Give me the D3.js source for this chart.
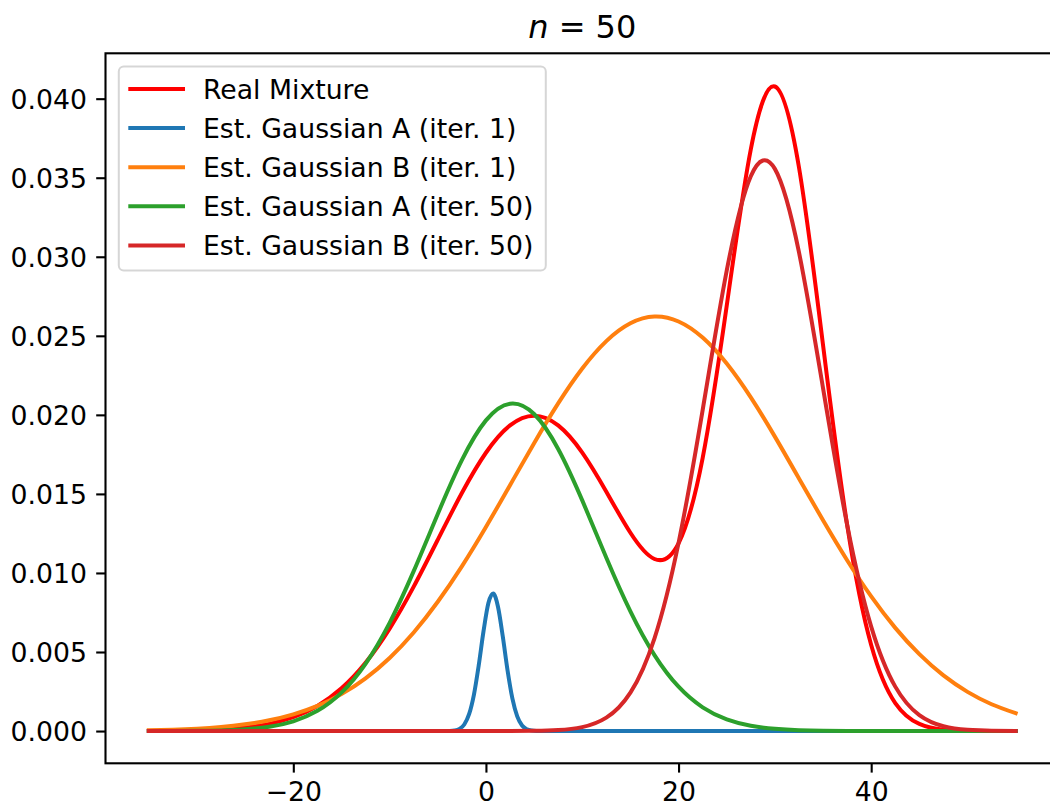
<!DOCTYPE html>
<html>
<head>
<meta charset="utf-8">
<script src="https://cdn.jsdelivr.net/npm/d3@7"></script>
<style>
  body { margin: 0; background: #fff; }
  svg { display: block; }
</style>
</head>
<body>
<script>
// sample positions shared by the broad curves (even spacing)
const xGrid = [-35, -32.5, -30, -27.5, -25, -22.5, -20, -17.5, -15, -12.5, -10, -7.5, -5, -2.5,
  0, 2.5, 5, 7.5, 10, 12.5, 15, 17.5, 20, 22.5, 25, 27.5, 30, 32.5, 35, 37.5, 40, 42.5, 45, 47.5,
  50, 52.5, 55]

// real mixture density
const realMixture = [0.000007, 0.000018, 0.000044, 0.000101, 0.000222, 0.000455, 0.000876, 0.001587,
  0.002700, 0.004315, 0.006477, 0.009132, 0.012099, 0.015056, 0.017603, 0.019333, 0.019947, 0.019335,
  0.017616, 0.015143, 0.012542, 0.010885, 0.011876, 0.017269, 0.026897, 0.036794, 0.040770, 0.035662,
  0.024419, 0.013055, 0.005443, 0.001771, 0.000450, 0.000089, 0.000014, 0.000002, 0.000000]

// Gaussian A, iteration 1 (narrow, so it gets its own finer x positions)
const gaussA1X = [-35, -30, -25, -20, -15, -10, -5, -4.25, -3.75, -3.25, -2.75, -2.25, -1.75, -1.25,
  -0.75, -0.25, 0.25, 0.75, 1.25, 1.75, 2.25, 2.75, 3.25, 3.75, 4.25, 4.75, 5.25, 5.75, 6.5, 10, 15,
  20, 25, 30, 35, 40, 45, 50, 55]
const gaussA1 = [0, 0, 0, 0, 0, 0, 0, 0.000002, 0.000009, 0.000038, 0.000136, 0.000415, 0.001064,
  0.002292, 0.004151, 0.006317, 0.008084, 0.008695, 0.007862, 0.005976, 0.003818, 0.002051, 0.000926,
  0.000351, 0.000112, 0.000030, 0.000007, 0.000001, 0, 0, 0, 0, 0, 0, 0, 0, 0, 0, 0]

// Gaussian B, iteration 1
const gaussB1 = [0.000049, 0.000088, 0.000153, 0.000258, 0.000425, 0.000678, 0.001054, 0.001592,
  0.002336, 0.003335, 0.004625, 0.006238, 0.008178, 0.010420, 0.012911, 0.015551, 0.018207, 0.020722,
  0.022930, 0.024665, 0.025790, 0.026220, 0.025908, 0.024888, 0.023244, 0.021102, 0.018624, 0.015978,
  0.013328, 0.010805, 0.008516, 0.006526, 0.004861, 0.003519, 0.002478, 0.001695, 0.001128]

// Gaussian A, iteration 50
const gaussA50 = [0.000001, 0.000005, 0.000014, 0.000042, 0.000112, 0.000273, 0.000616, 0.001278,
  0.002433, 0.004256, 0.006844, 0.010113, 0.013731, 0.017135, 0.019651, 0.020708, 0.020053, 0.017844,
  0.014593, 0.010967, 0.007573, 0.004807, 0.002804, 0.001502, 0.000740, 0.000335, 0.000139, 0.000053,
  0.000019, 0.000006, 0.000002, 0, 0, 0, 0, 0, 0]

// Gaussian B, iteration 50
const gaussB50 = [0, 0, 0, 0, 0, 0, 0, 0, 0, 0, 0, 0, 0, 0, 0, 0, 0.000013, 0.000061, 0.000248,
  0.000846, 0.002430, 0.005866, 0.011905, 0.020303, 0.029116, 0.035094, 0.035560, 0.030291, 0.021690,
  0.013054, 0.006607, 0.002810, 0.001005, 0.000302, 0.000076, 0.000016, 0.000003]

const labels = ['Real Mixture', 'Est. Gaussian A (iter. 1)', 'Est. Gaussian B (iter. 1)',
  'Est. Gaussian A (iter. 50)', 'Est. Gaussian B (iter. 50)']
const colors = ['#ff0000', '#1f77b4', '#ff7f0e', '#2ca02c', '#d62728']

const xTicks = [-20, 0, 20, 40]
const yTicks = [0, 0.005, 0.01, 0.015, 0.02, 0.025, 0.03, 0.035, 0.04]
const xLimits = [-39.5, 59.5]
const yLimits = [-0.00204, 0.04287]

// layout
const width = 1050
const height = 809
const margin = { top: 53.3, left: 105.5 }
const innerWidth = 953.5
const innerHeight = 710
const font = 'DejaVu Sans, sans-serif'
const fontSize = 26.7

// even grid -> natural spline, uneven grid -> monotone
const series = [
  { x: xGrid, y: realMixture, curve: d3.curveNatural },
  { x: gaussA1X, y: gaussA1, curve: d3.curveMonotoneX },
  { x: xGrid, y: gaussB1, curve: d3.curveNatural },
  { x: xGrid, y: gaussA50, curve: d3.curveNatural },
  { x: xGrid, y: gaussB50, curve: d3.curveNatural },
]

const svg = d3.select('body')
  .append('svg')
  .attr('width', width)
  .attr('height', height)

const main = svg.append('g')
  .attr('transform', `translate(${margin.left}, ${margin.top})`)

// scales
const xScale = d3.scaleLinear().domain(xLimits).range([0, innerWidth])
const yScale = d3.scaleLinear().domain(yLimits).range([innerHeight, 0])

// clip to the axes box
svg.append('defs').append('clipPath')
  .attr('id', 'clip')
  .append('rect')
  .attr('width', innerWidth)
  .attr('height', innerHeight)

// curves
const plot = main.append('g').attr('clip-path', 'url(#clip)')
series.forEach((s, i) => {
  const line = d3.line()
    .x(d => xScale(d[0]))
    .y(d => yScale(d[1]))
    .curve(s.curve)
  plot.append('path')
    .datum(d3.zip(s.x, s.y))
    .attr('d', line)
    .attr('fill', 'none')
    .attr('stroke', colors[i])
    .attr('stroke-width', 4)
    .attr('stroke-linecap', 'square')
    .attr('stroke-linejoin', 'round')
})

// axes
const xAxis = d3.axisBottom(xScale)
  .tickValues(xTicks)
  .tickFormat(d3.format('d'))
  .tickSize(9.3)
  .tickPadding(9.3)
const yAxis = d3.axisLeft(yScale)
  .tickValues(yTicks)
  .tickFormat(d3.format('.3f'))
  .tickSize(9.3)
  .tickPadding(9.3)

const gx = main.append('g')
  .attr('transform', `translate(0, ${innerHeight})`)
  .call(xAxis)
const gy = main.append('g').call(yAxis)

;[gx, gy].forEach(g => {
  g.select('.domain').remove()
  g.selectAll('line').attr('stroke', '#000').attr('stroke-width', 2.1)
  g.selectAll('text')
    .attr('fill', '#000')
    .attr('font-family', font)
    .attr('font-size', fontSize)
})
gx.selectAll('text').attr('dy', '0.72em')
gy.selectAll('text').attr('dy', '0.36em')

// spines
main.append('rect')
  .attr('width', innerWidth)
  .attr('height', innerHeight)
  .attr('fill', 'none')
  .attr('stroke', '#000')
  .attr('stroke-width', 2.1)

// title
const title = svg.append('text')
  .attr('x', margin.left + innerWidth / 2)
  .attr('y', 38)
  .attr('text-anchor', 'middle')
  .attr('font-family', font)
  .attr('font-size', 32)
title.append('tspan').attr('font-style', 'italic').text('n')
title.append('tspan').text(' = 50')

// legend
const legend = main.append('g')
  .attr('transform', 'translate(13.3, 13.3)')

legend.append('rect')
  .attr('width', 427)
  .attr('height', 204)
  .attr('rx', 5)
  .attr('fill', '#fff')
  .attr('fill-opacity', 0.8)
  .attr('stroke', '#cccccc')
  .attr('stroke-opacity', 0.8)
  .attr('stroke-width', 2)

const rows = legend.selectAll('g.row')
  .data(labels)
  .enter()
  .append('g')
  .attr('class', 'row')
  .attr('transform', (d, i) => `translate(0, ${22.4 + i * 39.1})`)

rows.append('line')
  .attr('x1', 11.5)
  .attr('x2', 64.2)
  .attr('stroke', (d, i) => colors[i])
  .attr('stroke-width', 4)
  .attr('stroke-linecap', 'square')

rows.append('text')
  .attr('x', 84.2)
  .attr('dy', '0.36em')
  .attr('font-family', font)
  .attr('font-size', fontSize)
  .text(d => d)
</script>
</body>
</html>
